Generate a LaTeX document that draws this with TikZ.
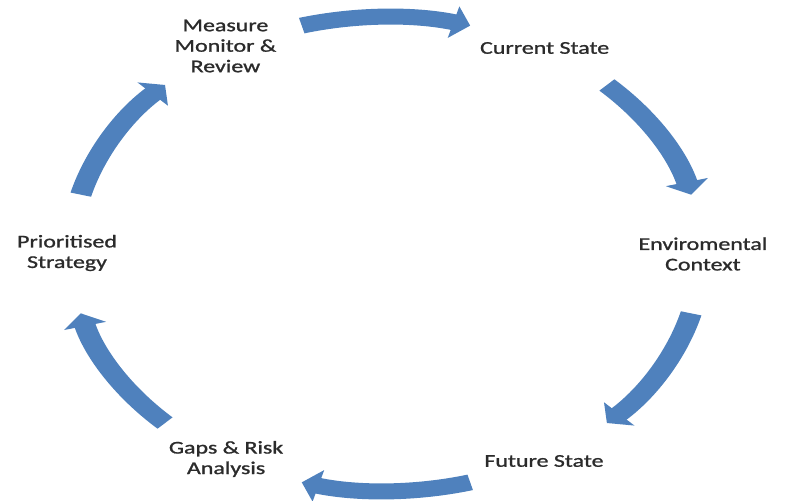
\documentclass[tikz,border=0pt]{standalone}
\usepackage{fontspec}
\setmainfont{Carlito}[FakeBold=1]
\usetikzlibrary{arrows.meta,calc}
\definecolor{cycblue}{HTML}{4F81BD}
\definecolor{labelgray}{HTML}{2B2B2B}
\begin{document}
\begin{tikzpicture}[x=1pt,y=1pt,
  cyclearrow/.style={draw=cycblue, line width=16pt, line cap=butt,
    -{Triangle[width=32pt,length=13pt]}},
  cyclabel/.style={font=\fontsize{18}{20.5}\selectfont, text=labelgray,
    align=center, inner sep=0pt}]
\useasboundingbox (0,0) rectangle (785,501);
% the whole cycle is drawn in a narrower frame and widened horizontally
\begin{scope}[transform canvas={xscale=1.33}]
  \coordinate (O) at (290.2,247);
  \def\R{237}
  % stage labels
  \node[cyclabel] (measure) at (169.5,455) {Measure\\Monitor \&\\Review};
  \node[cyclabel] (current) at (409.5,453) {Current State};
  \node[cyclabel] (env)     at (528.5,247) {Enviromental\\Context};
  \node[cyclabel] (future)  at (409,40) {Future State};
  \node[cyclabel] (gaps)    at (170,42) {Gaps \& Risk\\Analysis};
  \node[cyclabel] (prior)   at (50.4,248) {Prioritised\\Strategy};
  % arrow end points on the circle
  \foreach \c/\n in {90/a,30/b,-30/c,-90/d,-150/e,150/f}{
    \coordinate (\n s) at ($(O)+(\c+15.5:\R)$);
  }
  % curved arrows, clockwise
  \foreach \c/\n in {90/a,30/b,-30/c,-90/d,-150/e,150/f}{
    \draw[cyclearrow] (\n s) arc[start angle=\c+15.5, end angle=\c-15.5, radius=\R];
  }
\end{scope}
\end{tikzpicture}
\end{document}
